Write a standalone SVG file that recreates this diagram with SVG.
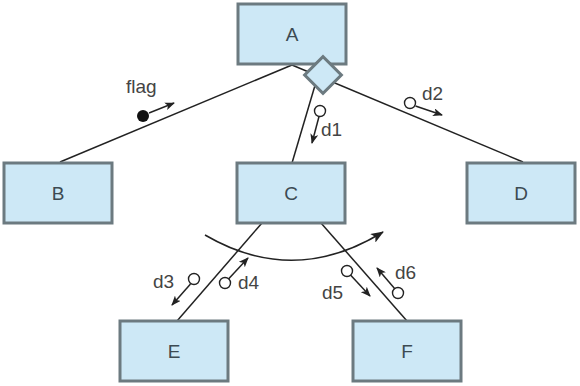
<svg xmlns="http://www.w3.org/2000/svg" width="580" height="386" viewBox="0 0 580 386">
<style>
.box{fill:#cde8f6;stroke:#6c7a80;stroke-width:3}
.lbl{font-family:"Liberation Sans",Arial,sans-serif;font-size:19px;fill:#444}
.node{font-family:"Liberation Sans",Arial,sans-serif;font-size:19px;fill:#3c4a52;text-anchor:middle}
.ln{stroke:#222;stroke-width:1.5;fill:none}
.dc{fill:#fff;stroke:#222;stroke-width:1.4}
</style>
<defs>
<marker id="ah" markerWidth="10" markerHeight="8" refX="9" refY="4" orient="auto" markerUnits="userSpaceOnUse">
<path d="M0,0 L10,4 L0,8 L2.5,4 Z" fill="#222"/>
</marker>
<marker id="ahb" markerWidth="13" markerHeight="10" refX="12" refY="5" orient="auto" markerUnits="userSpaceOnUse">
<path d="M0,0 L13,5 L0,10 L3,5 Z" fill="#222"/>
</marker>
</defs>
<g id="connectors">
<line class="ln" x1="292" y1="65" x2="60" y2="162"/>
<line class="ln" x1="292" y1="65" x2="523" y2="162"/>
<line class="ln" x1="316" y1="82" x2="292" y2="163"/>
<line class="ln" x1="262" y1="223" x2="177" y2="321"/>
<line class="ln" x1="321" y1="223" x2="407" y2="321"/>
<path class="ln" d="M205,235 Q294,287 383,232" marker-end="url(#ahb)"/>
</g>
<g id="A"><rect class="box" x="238" y="4" width="108" height="60"/><text class="node" x="292" y="41">A</text></g>
<g id="B"><rect class="box" x="4" y="163" width="108" height="60"/><text class="node" x="58" y="200">B</text></g>
<g id="C"><rect class="box" x="237" y="163" width="108" height="60"/><text class="node" x="291" y="200">C</text></g>
<g id="D"><rect class="box" x="467" y="163" width="108" height="60"/><text class="node" x="521" y="200">D</text></g>
<g id="E"><rect class="box" x="120" y="321" width="108" height="60"/><text class="node" x="174" y="358">E</text></g>
<g id="F"><rect class="box" x="353" y="321" width="108" height="60"/><text class="node" x="407" y="358">F</text></g>
<g id="diamond"><rect class="box" x="310" y="62" width="26" height="26" transform="rotate(45 323 75)"/></g>
<g id="flags">
<text class="lbl" x="126" y="93">flag</text>
<circle cx="143" cy="116" r="6" fill="#111"/>
<line class="ln" x1="149" y1="113" x2="174" y2="103" marker-end="url(#ah)"/>
<circle class="dc" cx="320" cy="111" r="5.5"/>
<line class="ln" x1="319" y1="116.5" x2="312" y2="143" marker-end="url(#ah)"/>
<text class="lbl" x="321" y="136">d1</text>
<circle class="dc" cx="410" cy="103" r="5.5"/>
<line class="ln" x1="415.5" y1="106" x2="442" y2="115" marker-end="url(#ah)"/>
<text class="lbl" x="422" y="100">d2</text>
<circle class="dc" cx="194" cy="279" r="5.5"/>
<line class="ln" x1="190.5" y1="284" x2="172" y2="305" marker-end="url(#ah)"/>
<text class="lbl" x="153" y="288">d3</text>
<circle class="dc" cx="225" cy="283" r="5.5"/>
<line class="ln" x1="228.5" y1="279" x2="248" y2="258" marker-end="url(#ah)"/>
<text class="lbl" x="238" y="289">d4</text>
<circle class="dc" cx="347" cy="271" r="5.5"/>
<line class="ln" x1="350.5" y1="275" x2="370" y2="296" marker-end="url(#ah)"/>
<text class="lbl" x="322" y="299">d5</text>
<circle class="dc" cx="398" cy="293" r="5.5"/>
<line class="ln" x1="395" y1="289" x2="377" y2="268" marker-end="url(#ah)"/>
<text class="lbl" x="395" y="279">d6</text>
</g>
</svg>
